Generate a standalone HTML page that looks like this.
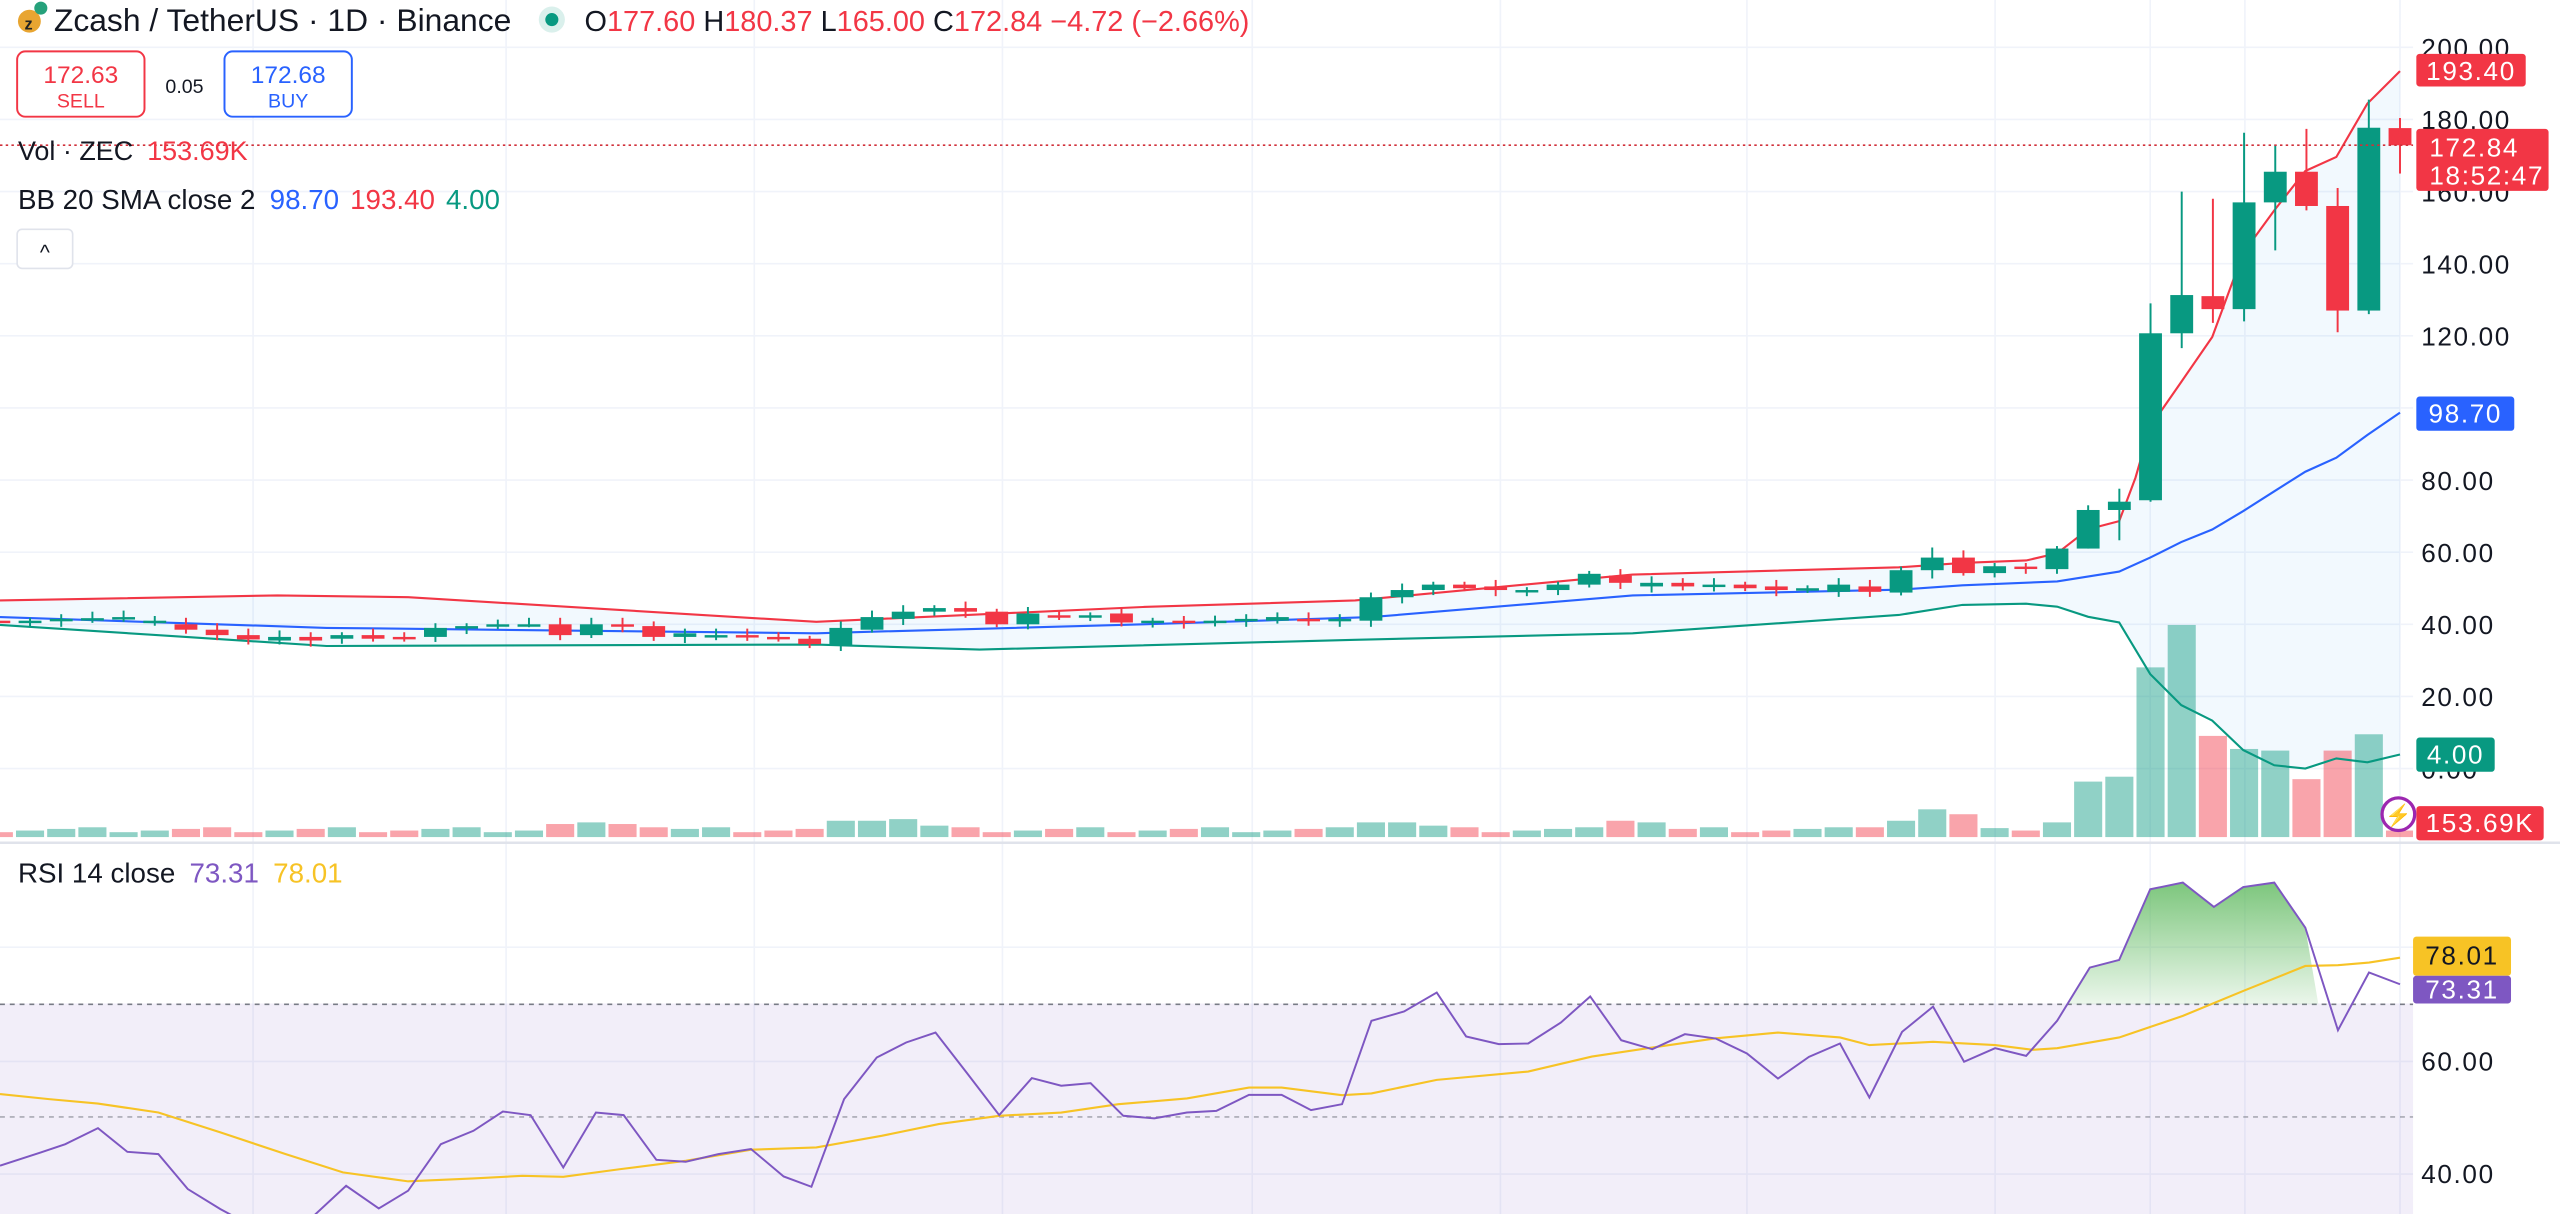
<!DOCTYPE html>
<html><head><meta charset="utf-8"><style>
html,body{margin:0;padding:0;background:#fff;overflow:hidden}
svg{display:block}
text{font-family:"Liberation Sans",sans-serif}
</style></head><body>
<svg id="s" width="2560" height="1214" viewBox="0 0 1568 744" preserveAspectRatio="none" xmlns="http://www.w3.org/2000/svg">
<defs>
<linearGradient id="gg" x1="0" y1="0" x2="0" y2="1"><stop offset="0" stop-color="#5cb85c" stop-opacity="0.8"/><stop offset="1" stop-color="#5cb85c" stop-opacity="0.03"/></linearGradient>
<clipPath id="plot"><rect x="0" y="0" width="1478" height="516"/></clipPath>
<clipPath id="rsi"><rect x="0" y="517" width="1478" height="227"/></clipPath>
</defs>
<g id="grid" stroke="#f0f3fa" stroke-width="1"></g>
<rect x="0" y="615" width="1478" height="129" fill="#7e57c2" fill-opacity="0.1"/>
<line x1="0" y1="615.5" x2="1478" y2="615.5" stroke="#787b86" stroke-dasharray="3,3" stroke-width="1"/>
<line x1="0" y1="684.5" x2="1478" y2="684.5" stroke="#787b86" stroke-opacity="0.6" stroke-dasharray="3,3" stroke-width="1"/>
<g id="main" clip-path="url(#plot)"></g>
<g id="rs" clip-path="url(#rsi)"></g>
<line x1="0" y1="516.5" x2="1568" y2="516.5" stroke="#e0e3eb" stroke-width="1.5"/>
<line x1="0" y1="89" x2="1478" y2="89" stroke="#d0303a" stroke-dasharray="1.5,2" stroke-width="1"/>
<g id="axis" font-size="16" letter-spacing="1" fill="#131722"></g>
<!-- header -->
<circle cx="18" cy="13" r="7" fill="#e8a531"/><text x="15" y="18" font-size="10" font-weight="bold" fill="#222">z</text>
<circle cx="25" cy="5" r="4" fill="#26a17b"/>
<text x="33" y="19" font-size="19.5" fill="#131722">Zcash / TetherUS · 1D · Binance</text>
<circle cx="338" cy="12" r="8" fill="#089981" fill-opacity="0.15"/><circle cx="338" cy="12" r="4" fill="#089981"/>
<text x="358" y="19" font-size="17.7" fill="#131722">O<tspan fill="#f23645">177.60</tspan> H<tspan fill="#f23645">180.37</tspan> L<tspan fill="#f23645">165.00</tspan> C<tspan fill="#f23645">172.84</tspan> <tspan fill="#f23645">−4.72 (−2.66%)</tspan></text>
<rect x="10.5" y="31.5" width="78" height="40" rx="5" fill="#fff" stroke="#f23645" stroke-width="1.2"/>
<text x="49.5" y="51" font-size="15" fill="#f23645" text-anchor="middle">172.63</text>
<text x="49.5" y="66" font-size="12" fill="#f23645" text-anchor="middle">SELL</text>
<text x="113" y="57" font-size="12" fill="#131722" text-anchor="middle">0.05</text>
<rect x="137.5" y="31.5" width="78" height="40" rx="5" fill="#fff" stroke="#2962ff" stroke-width="1.2"/>
<text x="176.5" y="51" font-size="15" fill="#2962ff" text-anchor="middle">172.68</text>
<text x="176.5" y="66" font-size="12" fill="#2962ff" text-anchor="middle">BUY</text>
<text x="11" y="98" font-size="16.5" fill="#131722">Vol · ZEC <tspan fill="#f23645" dx="4">153.69K</tspan></text>
<text x="11" y="128" font-size="17" fill="#131722">BB 20 SMA close 2 <tspan fill="#2962ff" dx="4">98.70</tspan> <tspan fill="#f23645" dx="2">193.40</tspan> <tspan fill="#089981" dx="2">4.00</tspan></text>
<rect x="10.5" y="140.5" width="34" height="24" rx="3" fill="#fff" stroke="#e0e3eb"/>
<text x="27.5" y="159" font-size="13" fill="#131722" text-anchor="middle">^</text>
<text x="11" y="541" font-size="17" fill="#131722">RSI 14 close <tspan fill="#7e57c2" dx="4">73.31</tspan> <tspan fill="#f7c325" dx="4">78.01</tspan></text>
<!-- right labels -->
<g font-size="16" letter-spacing="1">
<rect x="1480" y="33" width="67" height="20" rx="2" fill="#f23645"/><text x="1513.5" y="49" fill="#fff" text-anchor="middle">193.40</text>
<rect x="1480" y="79" width="81" height="38" rx="2" fill="#f23645"/><text x="1488" y="96" fill="#fff">172.84</text><text x="1488" y="113" fill="#fff">18:52:47</text>
<rect x="1480" y="243" width="60" height="21" rx="2" fill="#2962ff"/><text x="1510" y="259" fill="#fff" text-anchor="middle">98.70</text>
<rect x="1480" y="452" width="48" height="21" rx="2" fill="#089981"/><text x="1504" y="468" fill="#fff" text-anchor="middle">4.00</text>
<rect x="1480" y="494" width="78" height="21" rx="2" fill="#f23645"/><text x="1519" y="510" fill="#fff" text-anchor="middle">153.69K</text>
<rect x="1478" y="574" width="60" height="24" rx="2" fill="#f7c325"/><text x="1508" y="591" fill="#131722" text-anchor="middle">78.01</text>
<rect x="1478" y="598" width="60" height="17" rx="2" fill="#7e57c2"/><text x="1508" y="612" fill="#fff" text-anchor="middle">73.31</text>
</g>
<circle cx="1469" cy="499" r="10" fill="#fff" stroke="#9c27b0" stroke-width="2"/><text x="1469" y="504" font-size="13" fill="#9c27b0" text-anchor="middle">⚡</text>
</svg>
<script>
const NS="http://www.w3.org/2000/svg";
function el(p,t,a){const e=document.createElementNS(NS,t);for(const k in a)e.setAttribute(k,a[k]);p.appendChild(e);return e;}
const Y=p=>471-2.21*p;
const grid=document.getElementById('grid'),main=document.getElementById('main'),rs=document.getElementById('rs'),axis=document.getElementById('axis');
[0,20,40,60,80,100,120,140,160,180,200].forEach(p=>el(grid,'line',{x1:0,x2:1478,y1:Y(p),y2:Y(p)}));
[580.5,650.5,719.5].forEach(y=>el(grid,'line',{x1:0,x2:1478,y1:y,y2:y}));
[155,310,462,614,767,919,1070,1222,1317,1375,1470].forEach(x=>el(grid,'line',{x1:x,x2:x,y1:0,y2:744}));
[200,180,160,140,120,80,60,40,20,0].forEach(p=>{el(axis,'text',{x:1483,y:Y(p)+6}).textContent=p.toFixed(2);});
el(axis,'text',{x:1483,y:656}).textContent='60.00';el(axis,'text',{x:1483,y:725}).textContent='40.00';
const left=[[41,40.5],[40.5,41],[41,41.5],[41.5,41.7],[41.5,42],[41,41],[40,38.5],[38.5,37],[37,35.8],[35.5,36.5],[36.5,35.5],[36,37],[37,36],[36.5,36],[36.5,39],[39,39.5],[39.5,40],[40,40],[40,37],[37,40],[40,39.5],[39.5,36.5],[36.5,37.5],[37,37],[37,36.5],[36.5,36],[36,34.5],[34,39],[38.5,42],[41.5,43.5],[43.5,44.5],[44.5,43.5],[43.5,40],[40,43],[42.5,42],[42,42.5],[43,40.5],[40.5,41],[41,40.8],[40.8,41],[41,41.5],[41,42],[41.5,41],[41,41.5],[41,47.5],[47.5,49.5],[49.5,51],[51,50],[50.5,49.5],[49.5,49.5],[49.5,51],[51,54],[53.5,51.5],[50.5,51.5],[51.5,50.5],[50.5,51],[51,50],[50.5,49.5],[49.5,50],[49,51],[50.5,49]];
const C=left.map(([o,c])=>{const h=Math.max(o,c)+0.8+((o*7)%1.5),l=Math.min(o,c)-0.8-((c*3)%1.2);return [o,c,h,l];});
C.push([48.8,55,56,48],[55,58.5,61.3,52.7],[58.5,54.2,60.5,53.5],[54.2,56.1,57,53],[56,55.5,57,54],[55.3,61,61.7,54],[61,71.7,73,61],[71.7,74,77.6,63.3],[74.4,120.7,129,74],[120.7,131.3,160,116.6],[131,127.4,158,123.6],[127.4,157,176.3,124],[157,165.5,173,143.7],[165.5,156,177.4,154.8],[156,127,161,121],[127,177.7,185.5,126],[177.6,172.84,180.4,165]);
const n=C.length,X=i=>1470-19.1*(n-1-i);
const up=[[0,46.6],[170,48],[250,47.5],[500,40.7],[700,44.8],[830,46.6],[1000,53.8],[1163,55.8],[1202,57],[1241,57.7],[1260,59.7],[1279,66.4],[1298,68.6],[1308,80.7],[1317,94.8],[1336,107.2],[1355,119.7],[1374,143],[1393,154.8],[1412,165.7],[1431,169.6],[1450,184.4],[1470,193.4]];
const md=[[0,42],[200,39],[500,37.5],[700,40],[840,42],[1000,48],[1163,49.6],[1202,50.8],[1260,51.9],[1298,54.6],[1317,58.5],[1336,62.8],[1355,66.3],[1374,71.4],[1393,76.9],[1412,82.3],[1431,86.2],[1450,92.5],[1470,98.7]];
const lo=[[0,39.8],[200,34],[500,34.4],[600,33],[830,35.7],[1000,37.5],[1163,42.6],[1202,45.4],[1241,45.7],[1260,44.9],[1279,42.1],[1298,40.5],[1317,26.2],[1336,17.6],[1355,13.3],[1374,5.1],[1393,0.9],[1412,0],[1431,2.8],[1450,1.7],[1470,3.9]];
const pts=a=>a.map(([x,p])=>x+','+Y(p).toFixed(1)).join(' ');
el(main,'polygon',{points:pts(up)+' '+pts(lo.slice().reverse()),fill:'#2196f3','fill-opacity':0.06});
const vh=[];for(let i=0;i<n;i++)vh.push(3+((i*37)%4));
[[18,8],[19,9],[20,8],[21,6],[27,10],[28,10],[29,11],[30,7],[44,9],[45,9],[46,7],[52,10],[53,9],[60,6],[61,10],[62,17],[63,14],[64,5.5],[65,4],[66,9],[67,34],[68,37],[69,104],[70,130],[71,62],[72,54],[73,53],[74,35.5],[75,53],[76,63],[77,4]].forEach(([i,h])=>vh[i]=h);
C.forEach((c,i)=>{const g=c[1]>=c[0];el(main,'rect',{x:X(i)-8.6,y:513-vh[i],width:17.2,height:vh[i],fill:g?'#089981':'#f23645','fill-opacity':0.45});});
el(main,'polyline',{points:pts(up),fill:'none',stroke:'#f23645','stroke-width':1.3});
el(main,'polyline',{points:pts(md),fill:'none',stroke:'#2962ff','stroke-width':1.3});
el(main,'polyline',{points:pts(lo),fill:'none',stroke:'#089981','stroke-width':1.3});
C.forEach((c,i)=>{const [o,cl,h,l]=c,g=cl>=o,col=g?'#089981':'#f23645',x=X(i);
el(main,'line',{x1:x,x2:x,y1:Y(h),y2:Y(l),stroke:col,'stroke-width':1.2});
const t=Y(Math.max(o,cl)),b=Y(Math.min(o,cl));el(main,'rect',{x:x-7,y:t,width:14,height:Math.max(b-t,1.5),fill:col});});
const R=[[0,980],[25,940],[40,915],[60,867],[78,938],[97,945],[115,1050],[135,1110],[150,1150],[170,1180],[190,1140],[212,1040],[232,1108],[250,1055],[270,915],[290,875],[308,817],[325,828],[345,985],[365,820],[382,828],[402,962],[420,968],[440,945],[460,930],[480,1012],[497,1043],[517,780],[537,655],[555,610],[573,580],[592,700],[612,828],[632,717],[650,740],[668,732],[688,830],[707,838],[727,820],[745,815],[765,767],[785,767],[803,813],[822,795],[840,545],[860,517],[880,460],[898,592],[918,615],[936,613],[956,550],[974,472],[993,603],[1012,630],[1032,585],[1051,598],[1070,643],[1089,718],[1108,653],[1127,613],[1145,775],[1165,578],[1184,502],[1203,668],[1222,627],[1241,650],[1260,545],[1280,385],[1298,362],[1317,150],[1337,130],[1356,203],[1374,143],[1393,130],[1412,265],[1432,573],[1451,400],[1470,435]];
const M=[[0,765],[30,780],[60,793],[97,820],[135,880],[175,945],[210,1000],[250,1027],[290,1018],[320,1010],[345,1013],[380,990],[420,965],[460,932],[500,925],[540,890],[575,855],[612,830],[650,820],[685,795],[727,778],[765,745],[785,745],[822,768],[840,763],[880,722],[936,697],[975,652],[1012,625],[1051,597],[1089,580],[1127,595],[1145,618],[1184,608],[1222,618],[1245,632],[1260,627],[1298,595],[1337,530],[1374,455],[1412,380],[1432,378],[1451,370],[1470,355]];
const ry=oy=>((oy/3+840)/1.633);
const rp=a=>a.map(([x,y])=>x+','+ry(y).toFixed(1)).join(' ');
const seg=R.filter(([x])=>x>=1260&&x<=1412);
el(rs,'polygon',{points:'1266,615.5 '+rp(seg)+' 1420,615.5',fill:'url(#gg)'});
el(rs,'polyline',{points:rp(M),fill:'none',stroke:'#f7c325','stroke-width':1.3});
el(rs,'polyline',{points:rp(R),fill:'none',stroke:'#7e57c2','stroke-width':1.2});
</script>
</body></html>
